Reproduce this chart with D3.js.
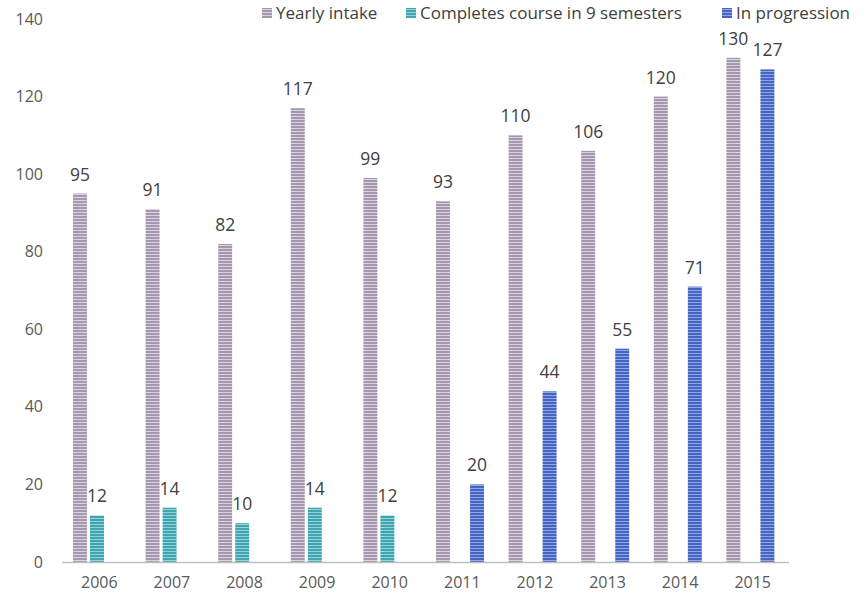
<!DOCTYPE html>
<html>
<head>
<meta charset="utf-8">
<script src="https://cdn.jsdelivr.net/npm/d3@7"></script>
<style>
  body { margin: 0; background: #fff; }
  svg { display: block; font-family: "Open Sans", "Liberation Sans", sans-serif; }
  .tick text { fill: #595959; font-size: 16px; font-family: "Open Sans", "Liberation Sans", sans-serif; }
  .lbl { fill: #404040; font-size: 17.5px; text-anchor: middle; }
  .leg { fill: #404040; font-size: 17px; }
</style>
</head>
<body>
<div class="chart"></div>
<script>
var years = ["2006", "2007", "2008", "2009", "2010", "2011", "2012", "2013", "2014", "2015"];
var seriesNames = ["Yearly intake", "Completes course in 9 semesters", "In progression"];
var yearlyIntake = [95, 91, 82, 117, 99, 93, 110, 106, 120, 130];
var completes = [12, 14, 10, 14, 12, null, null, null, null, null];
var inProgression = [null, null, null, null, null, 20, 44, 55, 71, 127];
var yTicks = [0, 20, 40, 60, 80, 100, 120, 140];

var W = 866, H = 598;

// stripe colours per series: [dark line, light line]
var stripes = [["#a597ae", "#dcd3e0"], ["#3fa5ae", "#93d3d9"], ["#4565c2", "#92a7e4"]];

var svg = d3.select(".chart").append("svg")
    .attr("width", W)
    .attr("height", H);

var defs = svg.append("defs");
stripes.forEach(function(c, i) {
    var p = defs.append("pattern")
        .attr("id", "stripe" + i)
        .attr("patternUnits", "userSpaceOnUse")
        .attr("width", 40)
        .attr("height", 3);
    p.append("rect").attr("width", 40).attr("height", 3).attr("fill", c[1]);
    p.append("rect").attr("width", 40).attr("height", 2).attr("fill", c[0]);
});

var x0 = d3.scaleBand()
    .domain(years)
    .range([63, 789]);

var x1 = d3.scaleBand()
    .domain(d3.range(3))
    .range([10, 58])
    .paddingInner(0.18);

var y = d3.scaleLinear()
    .domain([0, 140])
    .range([562, 19]);

// y tick labels (no gridlines, no axis line)
var yAxis = svg.append("g")
    .attr("transform", "translate(63,0)")
    .call(d3.axisLeft(y).tickValues(yTicks).tickSize(0).tickPadding(20));
yAxis.select(".domain").remove();

// x axis
var xAxis = svg.append("g")
    .attr("transform", "translate(0,562)")
    .call(d3.axisBottom(x0).tickSize(0).tickPadding(15));
xAxis.select(".domain").remove();

var table = years.map(function(yr, i) {
    return { year: yr, values: [yearlyIntake[i], completes[i], inProgression[i]] };
});

var groups = svg.selectAll(".grp")
    .data(table)
    .enter().append("g")
    .attr("class", "grp")
    .attr("transform", function(d) { return "translate(" + x0(d.year) + ",0)"; });

var cells = groups.selectAll(".bar")
    .data(function(d) {
        return d.values.map(function(v, k) { return { k: k, v: v }; })
            .filter(function(e) { return e.v != null; });
    })
    .enter();

cells.append("rect")
    .attr("class", "bar")
    .attr("x", function(d) { return x1(d.k); })
    .attr("width", x1.bandwidth())
    .attr("y", function(d) { return y(d.v); })
    .attr("height", function(d) { return y(0) - y(d.v); })
    .attr("fill", function(d) { return "url(#stripe" + d.k + ")"; });

cells.append("text")
    .attr("class", "lbl")
    .attr("x", function(d) { return x1(d.k) + x1.bandwidth() / 2; })
    .attr("y", function(d) { return y(d.v) - 13; })
    .text(function(d) { return d.v; });

// baseline
svg.append("line")
    .attr("x1", 62).attr("x2", 789)
    .attr("y1", 562.5).attr("y2", 562.5)
    .attr("stroke", "#bfbfbf")
    .attr("stroke-width", 1.5);

// legend
var legendX = [262, 406, 722];
var legend = svg.selectAll(".legend")
    .data(seriesNames)
    .enter().append("g")
    .attr("class", "legend")
    .attr("transform", function(d, i) { return "translate(" + legendX[i] + ",13)"; });

legend.append("rect")
    .attr("y", -5)
    .attr("width", 10)
    .attr("height", 10)
    .attr("fill", function(d, i) { return "url(#stripe" + i + ")"; });

legend.append("text")
    .attr("class", "leg")
    .attr("x", 14)
    .attr("dy", "0.35em")
    .text(function(d) { return d; });
</script>
</body>
</html>
